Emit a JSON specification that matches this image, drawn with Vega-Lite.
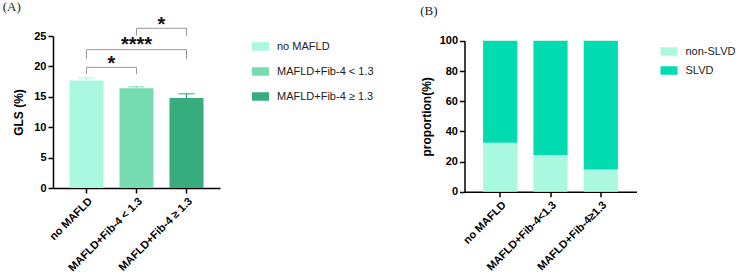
{
  "$schema": "https://vega.github.io/schema/vega-lite/v6.json",
  "padding": {"left": 2, "top": 0, "right": 0, "bottom": 0},
  "spacing": 43.5,
  "resolve": {"scale": {"color": "independent"}, "legend": {"color": "independent"}},
  "config": {
    "font": "Liberation Sans",
    "view": {"stroke": null},
    "axis": {
      "grid": false,
      "domainColor": "#000",
      "domainWidth": 1.5,
      "tickColor": "#000",
      "tickWidth": 1.5,
      "tickSize": 5,
      "labelColor": "#000",
      "labelFontWeight": "bold",
      "labelFontSize": 11,
      "titleColor": "#000",
      "titleFontWeight": "bold",
      "titleFontSize": 12
    },
    "title": {"font": "Liberation Serif", "fontSize": 13, "fontWeight": "normal", "anchor": "start", "color": "#222", "frame": "bounds"}
  },
  "datasets": {
    "gls": [
      {"group": "no MAFLD", "mean": 17.7, "upper": 18.1},
      {"group": "MAFLD+Fib-4 < 1.3", "mean": 16.4, "upper": 16.65},
      {"group": "MAFLD+Fib-4 ≥ 1.3", "mean": 14.8, "upper": 15.5}
    ],
    "brackets": [
      {"from": "no MAFLD", "to": "MAFLD+Fib-4 < 1.3", "mid": "no MAFLD", "span": 1, "top": 19.85, "bottom": 18.75, "label": "*", "labelY": 19.45},
      {"from": "no MAFLD", "to": "MAFLD+Fib-4 ≥ 1.3", "mid": "MAFLD+Fib-4 < 1.3", "span": 2, "top": 22.75, "bottom": 21.2, "label": "****", "labelY": 22.6},
      {"from": "MAFLD+Fib-4 < 1.3", "to": "MAFLD+Fib-4 ≥ 1.3", "mid": "MAFLD+Fib-4 < 1.3", "span": 1, "top": 26.27, "bottom": 25.05, "label": "*", "labelY": 25.8}
    ],
    "prop": [
      {"group": "no MAFLD", "status": "non-SLVD", "pct": 32.5},
      {"group": "no MAFLD", "status": "SLVD", "pct": 67.5},
      {"group": "MAFLD+Fib-4<1.3", "status": "non-SLVD", "pct": 24.3},
      {"group": "MAFLD+Fib-4<1.3", "status": "SLVD", "pct": 75.7},
      {"group": "MAFLD+Fib-4≥1.3", "status": "non-SLVD", "pct": 14.8},
      {"group": "MAFLD+Fib-4≥1.3", "status": "SLVD", "pct": 85.2}
    ]
  },
  "hconcat": [
    {
      "title": {"text": "(A)", "offset": 1.4, "dx": -10},
      "width": 167,
      "height": 152,
      "encoding": {
        "x": {"type": "nominal", "sort": null,
              "scale": {"paddingInner": 0.32, "paddingOuter": 0.33},
              "axis": {"title": null, "labelAngle": -45, "labelFontSize": 11}},
        "y": {"type": "quantitative",
              "scale": {"domain": [0, 25], "nice": false},
              "axis": {"title": "GLS (%)", "values": [0, 5, 10, 15, 20, 25], "titlePadding": 8}}
      },
      "layer": [
        {
          "data": {"name": "gls"},
          "mark": {"type": "bar"},
          "encoding": {
            "x": {"field": "group"},
            "y": {"field": "mean"},
            "color": {"field": "group", "type": "nominal", "sort": null,
                      "scale": {"range": ["#a9f8df", "#77dcb1", "#37ad7d"]},
                      "legend": {"title": null, "symbolType": "M-1,-0.5H1V0.5H-1Z", "symbolSize": 289, "symbolStrokeWidth": 0,
                                 "labelFontSize": 11, "labelColor": "#222", "rowPadding": 11, "offset": 30, "labelOffset": 8, "padding": 2}}
          }
        },
        {
          "data": {"name": "gls"},
          "mark": {"type": "rule", "strokeWidth": 1.5},
          "encoding": {
            "x": {"field": "group"},
            "y": {"field": "mean"},
            "y2": {"field": "upper"},
            "color": {"field": "group", "type": "nominal", "sort": null, "legend": null}
          }
        },
        {
          "data": {"name": "gls"},
          "mark": {"type": "tick", "size": 16, "thickness": 1.5},
          "encoding": {
            "x": {"field": "group"},
            "y": {"field": "upper"},
            "color": {"field": "group", "type": "nominal", "sort": null, "legend": null}
          }
        },
        {
          "data": {"name": "brackets"},
          "mark": {"type": "rule", "color": "#999", "strokeWidth": 1, "clip": false},
          "encoding": {
            "x": {"field": "from"},
            "x2": {"field": "to"},
            "y": {"field": "top"}
          }
        },
        {
          "data": {"name": "brackets"},
          "mark": {"type": "rule", "color": "#999", "strokeWidth": 1, "clip": false},
          "encoding": {
            "x": {"field": "from"},
            "y": {"field": "top"},
            "y2": {"field": "bottom"}
          }
        },
        {
          "data": {"name": "brackets"},
          "mark": {"type": "rule", "color": "#999", "strokeWidth": 1, "clip": false},
          "encoding": {
            "x": {"field": "to"},
            "y": {"field": "top"},
            "y2": {"field": "bottom"}
          }
        },
        {
          "data": {"name": "brackets"},
          "transform": [{"filter": "datum.span == 1"}],
          "mark": {"type": "text", "fontSize": 20, "fontWeight": "bold", "color": "#111", "align": "center", "baseline": "alphabetic", "dx": 25},
          "encoding": {
            "x": {"field": "from"},
            "y": {"field": "labelY"},
            "text": {"field": "label"}
          }
        },
        {
          "data": {"name": "brackets"},
          "transform": [{"filter": "datum.span == 2"}],
          "mark": {"type": "text", "fontSize": 20, "fontWeight": "bold", "color": "#111", "align": "center", "baseline": "alphabetic"},
          "encoding": {
            "x": {"field": "mid"},
            "y": {"field": "labelY"},
            "text": {"field": "label"}
          }
        }
      ]
    },
    {
      "title": {"text": "(B)", "offset": 17},
      "width": 172,
      "height": 155.8,
      "data": {"name": "prop"},
      "mark": {"type": "bar"},
      "encoding": {
        "x": {"field": "group", "type": "nominal", "sort": null,
              "scale": {"paddingInner": 0.32, "paddingOuter": 0.37},
              "axis": {"title": null, "labelAngle": -45, "labelFontSize": 11}},
        "y": {"field": "pct", "type": "quantitative", "stack": "zero",
              "scale": {"domain": [0, 100], "nice": false, "range": [155.8, 4.8]},
              "axis": {"title": "proportion(%)", "values": [0, 20, 40, 60, 80, 100], "titlePadding": 6}},
        "color": {"field": "status", "type": "nominal", "sort": ["non-SLVD", "SLVD"],
                  "scale": {"range": ["#a9f8df", "#00dbaf"]},
                  "legend": {"title": null, "symbolType": "M-1,-0.5H1V0.5H-1Z", "symbolSize": 289, "symbolStrokeWidth": 0,
                             "labelFontSize": 11, "labelColor": "#222", "rowPadding": 5, "offset": 16.5, "labelOffset": 8, "padding": 7}},
        "order": {"field": "status", "sort": "descending"}
      }
    }
  ]
}
